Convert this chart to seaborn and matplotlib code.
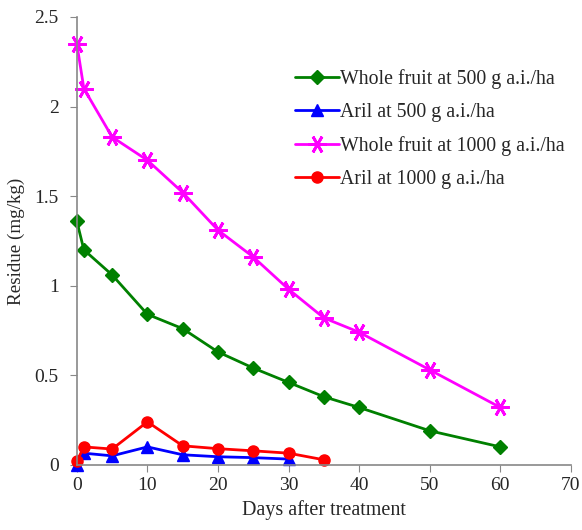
import numpy as np
import pandas as pd
import matplotlib
matplotlib.use("Agg")
import matplotlib.pyplot as plt
import seaborn as sns

# days after treatment for each series
days_whole = [0, 1, 5, 10, 15, 20, 25, 30, 35, 40, 50, 60]
whole_500 = [1.36, 1.20, 1.06, 0.84, 0.76, 0.63, 0.54, 0.46, 0.38, 0.32, 0.19, 0.10]
whole_1000 = [2.35, 2.10, 1.83, 1.70, 1.52, 1.31, 1.16, 0.98, 0.82, 0.74, 0.53, 0.32]

days_aril_500 = [0, 1, 5, 10, 15, 20, 25, 30]
aril_500 = [0.0, 0.065, 0.05, 0.10, 0.056, 0.045, 0.04, 0.032]

days_aril_1000 = [0, 1, 5, 10, 15, 20, 25, 30, 35]
aril_1000 = [0.02, 0.10, 0.088, 0.24, 0.106, 0.09, 0.078, 0.065, 0.028]

labels = ["Whole fruit at 500 g a.i./ha", "Aril at 500 g a.i./ha",
          "Whole fruit at 1000 g a.i./ha", "Aril at 1000 g a.i./ha"]

sns.set_style("white")
plt.rcParams['font.family'] = ['Liberation Serif', 'DejaVu Serif']

fig = plt.figure(figsize=(5.82, 5.30), dpi=100)
ax = fig.add_axes([0.132, 0.123, 0.849, 0.845])

series = [
    (days_whole, whole_500, labels[0], "#008000", "D", 7.5),
    (days_aril_500, aril_500, labels[1], "#0000FF", "^", 9),
    (days_whole, whole_1000, labels[2], "#FF00FF", (6, 2, 90), 13),
    (days_aril_1000, aril_1000, labels[3], "#FF0000", "o", 8),
]
for x, y, lab, col, mk, ms in series:
    sns.lineplot(x=x, y=y, ax=ax, color=col, marker=mk, markersize=ms,
                 linewidth=2, label=lab, markeredgecolor=col,
                 markeredgewidth=2 if mk == (6, 2, 90) else 1, clip_on=False)

ax.set_xlim(0, 70)
ax.set_ylim(0, 2.5)
ax.set_xticks(np.arange(0, 71, 10))
ax.set_yticks([0, 0.5, 1, 1.5, 2, 2.5])
ax.set_yticklabels(["0", "0.5", "1", "1.5", "2", "2.5"])
ax.set_xlabel("Days after treatment", fontsize=14.5, labelpad=4)
ax.set_ylabel("Residue (mg/kg)", fontsize=13.7, labelpad=7)

for s in ["top", "right"]:
    ax.spines[s].set_visible(False)
for s in ["left", "bottom"]:
    ax.spines[s].set_color("#888888")
    ax.spines[s].set_linewidth(1.2)
ax.tick_params(axis="both", direction="out", length=5, color="#888888",
               labelsize=14, left=True, bottom=True)
ax.tick_params(axis="y", pad=8)
ax.tick_params(axis="x", pad=4)

ax.legend(loc="upper left", bbox_to_anchor=(0.405, 0.923), frameon=False,
          fontsize=14.3, handlelength=2.2, handletextpad=0.1, labelspacing=0.7)

fig.savefig("out.png", dpi=100)
